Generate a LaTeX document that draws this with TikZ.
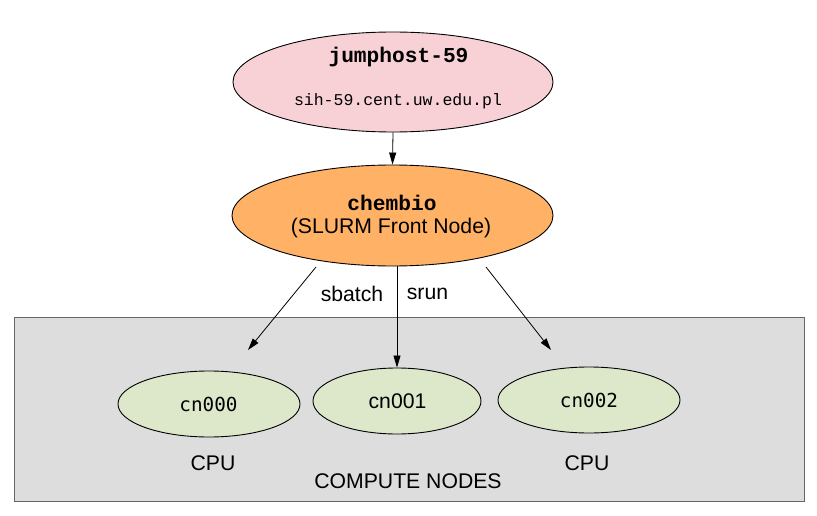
\documentclass[tikz,border=0pt]{standalone}
\usepackage{fontspec}
\setmainfont{Liberation Sans}
\newfontfamily\lmono{Liberation Mono}
\newfontfamily\dmono{DejaVu Sans Mono}
\usetikzlibrary{shapes.geometric,arrows.meta}
\definecolor{pinkfill}{RGB}{248,209,215}
\definecolor{orangefill}{RGB}{255,178,102}
\definecolor{greenfill}{RGB}{221,232,203}
\definecolor{boxfill}{RGB}{221,221,221}
\definecolor{boxline}{RGB}{102,102,102}
\tikzset{
  ell/.style={ellipse, draw=black, line width=0.9pt, inner sep=0pt},
  arr/.style={draw=black, line width=0.8pt, -{Triangle[length=12pt,width=7pt]}},
  sans/.style={font=\fontsize{21.2}{25}\selectfont},
  lbl/.style={inner sep=0pt, anchor=center},
}
\begin{document}
\begin{tikzpicture}[x=1pt,y=-1pt]
\useasboundingbox (0,0) rectangle (817,516);
% compute box
\node[draw=boxline, fill=boxfill, line width=1.3pt, minimum width=790pt, minimum height=184pt, inner sep=0pt, anchor=north west] (box) at (14,317) {};
% jumphost
\node[ell, fill=pinkfill, minimum width=320pt, minimum height=100pt] (jump) at (393,82) {};
\node[lbl, font=\lmono\bfseries\fontsize{21.2}{24}\selectfont] (jumpname) at (398.5,57) {jumphost-59};
\node[lbl, font=\lmono\fontsize{16.5}{20}\selectfont] (jumpaddr) at (398,101) {sih-59.cent.uw.edu.pl};
% chembio
\node[ell, fill=orangefill, minimum width=321pt, minimum height=101pt] (chem) at (392.5,215.5) {};
\node[lbl, font=\lmono\bfseries\fontsize{21.2}{24}\selectfont] (chemname) at (392,203) {chembio};
\node[lbl, sans] (chemrole) at (391,228) {(SLURM Front Node)};
% compute nodes
\node[ell, fill=greenfill, minimum width=182pt, minimum height=66pt] (cn0) at (209,404) {};
\node[lbl, font=\dmono\fontsize{19.3}{22}\selectfont] (cn0t) at (208.5,404) {cn000};
\node[ell, fill=greenfill, minimum width=168pt, minimum height=66pt] (cn1) at (397,401) {};
\node[lbl, sans] (cn1t) at (397.5,401) {cn001};
\node[ell, fill=greenfill, minimum width=182pt, minimum height=66pt] (cn2) at (589,400) {};
\node[lbl, font=\dmono\fontsize{19.3}{22}\selectfont] (cn2t) at (589,400) {cn002};
% labels
\node[lbl, sans] (cpu0) at (213,463) {CPU};
\node[lbl, sans] (cpu2) at (587,463) {CPU};
\node[lbl, sans] (cnlabel) at (408,481) {COMPUTE NODES};
\node[lbl, sans] (sbatch) at (352,294) {sbatch};
\node[lbl, sans] (srun) at (427.5,294) {srun};
% connectors
\coordinate (ls) at (316,267);
\coordinate (le) at (248,350);
\coordinate (rs) at (486,267);
\coordinate (re) at (551,350);
\draw[arr] (jump.south) -- (chem.north);
\draw[arr] (chem.south -| cn1.north) -- (cn1.north);
\draw[arr] (ls) -- (le);
\draw[arr] (rs) -- (re);
\end{tikzpicture}
\end{document}
